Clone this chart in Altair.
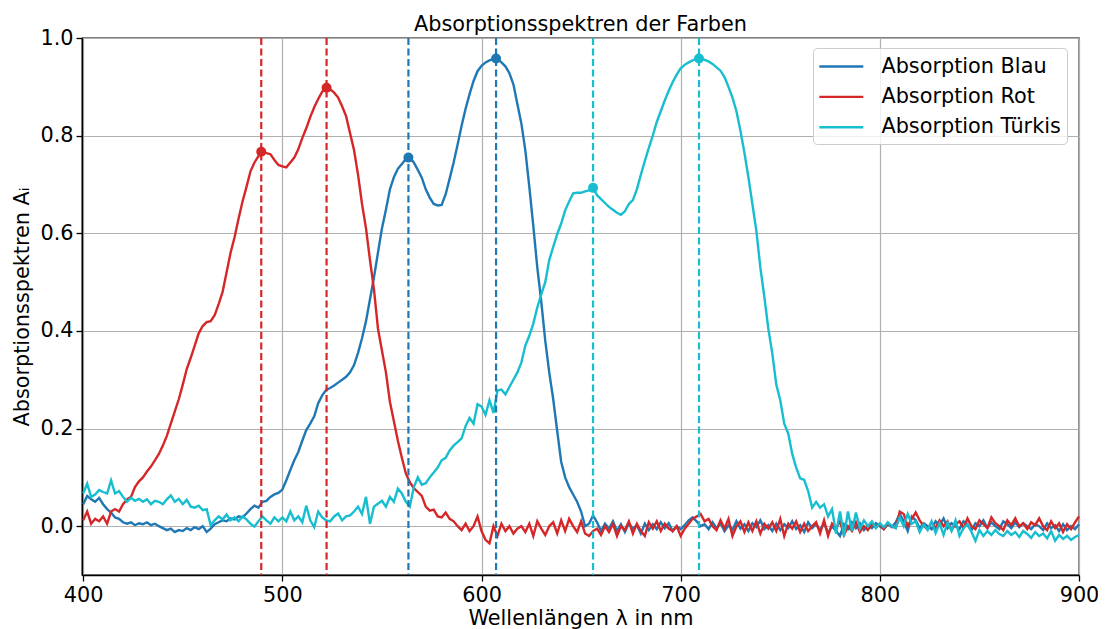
import altair as alt
import pandas as pd

# wavelength grid (nm), 2 nm steps from 400 to 900
wavelength = list(range(400, 901, 2))

blau = [
    0.045, 0.062, 0.055, 0.05, 0.058, 0.045, 0.035, 0.028, 0.018, 0.015,
    0.008, 0.005, 0.008, 0.002, 0.006, 0.004, 0.008, 0.002, 0.005, 0.0,
    -0.004, -0.008, -0.005, -0.012, -0.008, -0.01, -0.004, -0.008, -0.002, -0.006,
    0.0, -0.012, -0.005, 0.004, 0.008, 0.012, 0.01, 0.016, 0.014, 0.02,
    0.018, 0.026, 0.035, 0.042, 0.038, 0.05, 0.052, 0.06, 0.065, 0.068,
    0.075, 0.094, 0.115, 0.135, 0.152, 0.175, 0.197, 0.21, 0.225, 0.252,
    0.268, 0.279, 0.283, 0.288, 0.294, 0.3, 0.306, 0.315, 0.33, 0.355,
    0.385, 0.42, 0.465, 0.51, 0.56, 0.61, 0.648, 0.69, 0.715, 0.732,
    0.742, 0.752, 0.755, 0.745, 0.73, 0.714, 0.69, 0.673, 0.66, 0.657,
    0.658, 0.68, 0.712, 0.745, 0.782, 0.82, 0.855, 0.885, 0.912, 0.932,
    0.943, 0.95, 0.954, 0.957, 0.957, 0.95, 0.942, 0.928, 0.905, 0.865,
    0.825, 0.77, 0.695, 0.615, 0.53, 0.46, 0.38, 0.315, 0.26, 0.195,
    0.132, 0.1, 0.08, 0.065, 0.05, 0.03, 0.0, 0.005, 0.022, 0.008,
    -0.01, 0.005, -0.005, 0.01, -0.01, 0.004, -0.012, 0.006, -0.005, 0.002,
    -0.015, 0.005, -0.008, 0.004, -0.006, 0.008, -0.004, 0.006, -0.01, 0.0,
    -0.006, 0.002, 0.012, 0.018, 0.01, 0.0, 0.004, -0.006, 0.008, -0.004,
    0.006, -0.01, 0.002, -0.008, 0.01, -0.005, 0.004, -0.01, 0.006, -0.002,
    0.012, -0.006, 0.002, -0.01, 0.005, -0.008, 0.004, -0.004, 0.01, -0.006,
    0.002, -0.012, 0.008, -0.004, 0.004, -0.008, 0.006, -0.014, 0.0, -0.01,
    -0.02, 0.004, -0.006, 0.008, -0.004, 0.006, -0.008, 0.002, -0.004, 0.006,
    0.0, -0.006, 0.004, -0.002, 0.008, 0.025, 0.01, -0.01, 0.02, 0.012,
    -0.004, 0.006, 0.0, -0.006, 0.01, 0.002, 0.016, -0.004, 0.006, 0.0,
    -0.006, 0.01, 0.002, -0.008, 0.006, 0.0, 0.012, -0.004, 0.008, 0.0,
    -0.006, 0.01, 0.004, -0.004, 0.008, -0.002, 0.006, 0.0, -0.006, 0.004,
    0.0, -0.008, 0.006, -0.004, 0.002, -0.01, 0.004, -0.008, 0.0, -0.006,
    0.004,
]

rot = [
    0.012, 0.03, 0.005, 0.015, 0.01, 0.02, 0.005, 0.03, 0.035, 0.03,
    0.045, 0.055, 0.06, 0.08, 0.092, 0.1, 0.112, 0.122, 0.135, 0.148,
    0.165, 0.185, 0.21, 0.235, 0.26, 0.29, 0.322, 0.345, 0.37, 0.395,
    0.41, 0.418, 0.42, 0.432, 0.455, 0.48, 0.52, 0.56, 0.592, 0.63,
    0.665, 0.695, 0.727, 0.745, 0.758, 0.767, 0.764, 0.762, 0.75, 0.74,
    0.737, 0.735, 0.745, 0.755, 0.772, 0.795, 0.815, 0.838, 0.858, 0.875,
    0.89, 0.898, 0.895, 0.888, 0.878, 0.86, 0.84, 0.805, 0.77, 0.72,
    0.66, 0.61, 0.545, 0.485, 0.405, 0.36, 0.315, 0.255, 0.215, 0.175,
    0.14, 0.108, 0.09, 0.078, 0.07, 0.062, 0.04, 0.032, 0.034, 0.02,
    0.018, 0.028, 0.015, 0.01, 0.0, -0.008, 0.005, -0.01, 0.0, 0.02,
    -0.01, -0.028, -0.035, 0.0, -0.02, 0.005, -0.01, 0.0, -0.015, -0.005,
    0.0, -0.012, 0.005, -0.02, 0.01, -0.005, -0.018, 0.0, 0.008, -0.015,
    0.012, -0.01, 0.015, 0.0, -0.012, 0.01, -0.015, -0.02, -0.01, -0.005,
    -0.018, 0.0, -0.012, 0.005, -0.02, 0.0, -0.008, 0.01, -0.015, 0.005,
    -0.01, -0.02, 0.008, -0.005, 0.01, -0.01, 0.005, -0.005, -0.01, 0.0,
    -0.02, -0.005, 0.005, 0.015, 0.02, 0.025, 0.01, 0.015, 0.0, -0.008,
    0.012, -0.005, 0.015, -0.02, 0.0, 0.01, -0.012, 0.008, -0.01, 0.01,
    -0.015, 0.005, -0.005, 0.008, -0.01, 0.015, -0.02, 0.005, -0.005, 0.01,
    -0.012, 0.005, -0.01, 0.0, 0.008, -0.015, 0.012, -0.02, 0.005, -0.005,
    0.01, -0.018, 0.0, -0.01, 0.008, -0.012, 0.0, -0.008, 0.005, -0.002,
    0.004, -0.006, 0.006, 0.0, -0.004, 0.03, 0.025, 0.0, 0.015, 0.028,
    0.012, 0.0, -0.006, 0.008, -0.004, 0.012, 0.0, 0.01, -0.008, 0.004,
    0.01, -0.004, 0.016, 0.0, -0.006, 0.012, 0.004, -0.004, 0.018, 0.006,
    0.0, -0.008, 0.012, 0.002, 0.016, 0.0, 0.006, -0.006, 0.008, 0.002,
    0.016, 0.0, -0.008, 0.01, -0.004, 0.006, -0.012, 0.004, -0.006, 0.008,
    0.02,
]

tuerkis = [
    0.067, 0.087, 0.06, 0.065, 0.074, 0.07, 0.067, 0.094, 0.067, 0.072,
    0.06, 0.05, 0.058, 0.052, 0.056, 0.05, 0.055, 0.045, 0.052, 0.05,
    0.045, 0.055, 0.063, 0.05, 0.056, 0.045, 0.054, 0.04, 0.038, 0.042,
    0.033, 0.035, 0.002, 0.012, 0.02, 0.014, 0.024, 0.012, 0.018, 0.01,
    0.02, 0.014, 0.005, -0.001, 0.01, 0.02, 0.012, 0.005, 0.018, 0.01,
    0.018, 0.01, 0.03, 0.012, 0.02, 0.008, 0.042, 0.012, -0.002, 0.03,
    0.018, 0.012, 0.01, 0.02, 0.026, 0.012, 0.02, 0.022, 0.03, 0.04,
    0.025, 0.06, 0.005, 0.04, 0.046, 0.052, 0.04, 0.06, 0.05, 0.077,
    0.067, 0.05, 0.04, 0.08, 0.1, 0.085, 0.088, 0.1, 0.11, 0.12,
    0.135, 0.14, 0.155, 0.165, 0.172, 0.18, 0.205, 0.222, 0.21, 0.25,
    0.245, 0.228, 0.258, 0.232, 0.278, 0.28, 0.27, 0.285, 0.3, 0.315,
    0.335, 0.37, 0.39, 0.415, 0.448, 0.475, 0.5, 0.545, 0.572, 0.598,
    0.62, 0.647, 0.665, 0.682, 0.683, 0.683, 0.686, 0.688, 0.693, 0.678,
    0.67, 0.662, 0.654, 0.648, 0.642, 0.638, 0.645, 0.66, 0.668, 0.69,
    0.72, 0.748, 0.775, 0.8, 0.828, 0.85, 0.872, 0.892, 0.91, 0.925,
    0.938, 0.945, 0.95, 0.954, 0.957, 0.958, 0.955, 0.952, 0.947, 0.94,
    0.933, 0.92, 0.9, 0.878, 0.85, 0.81, 0.765, 0.715, 0.66, 0.605,
    0.53, 0.47, 0.405, 0.354, 0.29, 0.258, 0.21, 0.19, 0.148, 0.12,
    0.098, 0.095, 0.072, 0.038, 0.05, 0.038, 0.045, 0.02, 0.035, -0.015,
    0.03, -0.02, 0.03, -0.01, 0.028, -0.005, 0.012, 0.0, 0.01, -0.004,
    0.006, -0.002, 0.008, 0.0, -0.004, 0.018, 0.0, 0.025, 0.005, 0.01,
    -0.012, 0.004, -0.008, 0.01, -0.014, 0.006, -0.018, 0.008, -0.01, 0.012,
    -0.02, -0.004, 0.004, -0.012, -0.03, -0.008, -0.02, -0.01, -0.018, -0.008,
    -0.016, -0.02, -0.01, -0.018, -0.012, -0.022, -0.01, -0.016, -0.024, -0.012,
    -0.02, -0.015, -0.025, -0.01, -0.03, -0.018, -0.026, -0.02, -0.028, -0.022,
    -0.018,
]

series_names = ["Absorption Blau", "Absorption Rot", "Absorption Türkis"]
series_colors = ["#1f77b4", "#d62728", "#17becf"]

peak_nm = [489.4, 522.2, 563.3, 607.3, 656.0, 709.2]
peak_val = [0.767, 0.898, 0.755, 0.958, 0.693, 0.958]
peak_series = ["Absorption Rot", "Absorption Rot", "Absorption Blau",
               "Absorption Blau", "Absorption Türkis", "Absorption Türkis"]

x_ticks = [400, 500, 600, 700, 800, 900]
y_ticks = [0.0, 0.2, 0.4, 0.6, 0.8, 1.0]

rows = []
for name, vals in zip(series_names, [blau, rot, tuerkis]):
    for nm, v in zip(wavelength, vals):
        rows.append({"nm": nm, "A": v, "Serie": name})
df = pd.DataFrame(rows)
peaks = pd.DataFrame({"nm": peak_nm, "A": peak_val, "Serie": peak_series})

FONT = "DejaVu Sans"
FS = 20.8

x_enc = alt.X(
    "nm:Q",
    scale=alt.Scale(domain=[399.4, 900], nice=False, zero=False),
    axis=alt.Axis(values=x_ticks, format="d", title="Wellenlängen λ in nm",
                  labelPadding=4, titlePadding=4),
)
y_enc = alt.Y(
    "A:Q",
    scale=alt.Scale(domain=[-0.1, 1.0], nice=False, zero=False),
    axis=alt.Axis(values=y_ticks, format=".1f", title="Absorptionsspektren Aᵢ",
                  labelPadding=3, titlePadding=7),
)
color_scale = alt.Scale(domain=series_names, range=series_colors)

lines = alt.Chart(df).mark_line(strokeWidth=2.4).encode(
    x=x_enc,
    y=y_enc,
    color=alt.Color(
        "Serie:N",
        scale=color_scale,
        legend=alt.Legend(
            title=None, orient="none", legendX=731, legendY=10,
            symbolType="M-2,0H2", symbolSize=484, symbolStrokeWidth=2.4,
            symbolOffset=9.8,
            labelFont=FONT, labelFontSize=FS, labelColor="black",
            labelLimit=400, labelOffset=27.6, rowPadding=7.4, padding=6,
            strokeColor="#cccccc", fillColor="rgba(255,255,255,0.8)",
            cornerRadius=4,
        ),
    ),
)

rules = alt.Chart(peaks).mark_rule(strokeDash=[7, 3.5], strokeWidth=2.2).encode(
    x=alt.X("nm:Q"),
    color=alt.Color("Serie:N", scale=color_scale, legend=None),
)

points = alt.Chart(peaks).mark_circle(size=100, opacity=1).encode(
    x=alt.X("nm:Q"),
    y=alt.Y("A:Q"),
    color=alt.Color("Serie:N", scale=color_scale, legend=None),
)

chart = (
    alt.layer(lines, rules, points)
    .properties(
        width=997,
        height=537,
        title="Absorptionsspektren der Farben",
        autosize=alt.AutoSizeParams(type="none"),
        padding={"left": 74, "top": 30, "right": 19, "bottom": 60},
    )
    .configure_axis(
        grid=True, gridColor="#b0b0b0", gridWidth=1.2,
        domainColor="black", domainWidth=1.3,
        tickColor="black", tickWidth=1.3, tickSize=6,
        labelFont=FONT, labelFontSize=FS, labelColor="black",
        titleFont=FONT, titleFontSize=FS, titleFontWeight="normal", titleColor="black",
        labelFlush=False, labelOverlap=False,
    )
    .configure_view(stroke="black", strokeWidth=1.3)
    .configure_title(font=FONT, fontSize=FS, fontWeight="normal", color="black",
                     anchor="middle", offset=-9, baseline="alphabetic")
)

chart.save("out.html", embed_options={"renderer": "svg", "actions": False})
